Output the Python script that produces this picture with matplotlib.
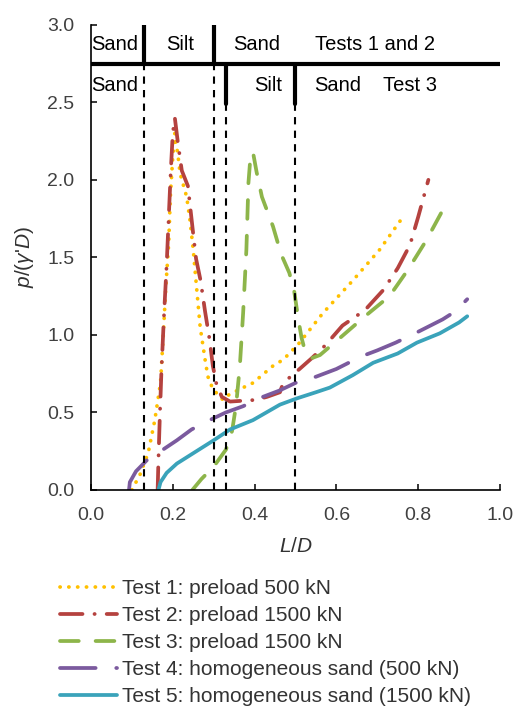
import matplotlib
matplotlib.use("Agg")
import matplotlib.pyplot as plt

# 폰트 설정
plt.rcParams["font.family"] = ["Liberation Sans", "DejaVu Sans"]
plt.rcParams["mathtext.fontset"] = "custom"
plt.rcParams["mathtext.rm"] = "Liberation Sans"
plt.rcParams["mathtext.it"] = "Liberation Sans:italic"

# Test 1: preload 500 kN
test1_x = [0.100, 0.120, 0.140, 0.156, 0.170, 0.177, 0.183, 0.190, 0.194, 0.200, 0.205,
           0.213, 0.218, 0.234, 0.242, 0.250, 0.258, 0.267, 0.279, 0.286, 0.298, 0.323,
           0.335, 0.364, 0.396, 0.445, 0.470, 0.507, 0.567, 0.640, 0.706, 0.760]
test1_y = [0.00, 0.10, 0.24, 0.45, 0.69, 1.01, 1.31, 1.59, 1.89, 2.15, 2.30,
           2.15, 2.04, 1.89, 1.74, 1.55, 1.31, 1.05, 0.84, 0.73, 0.65, 0.58,
           0.61, 0.65, 0.69, 0.80, 0.84, 0.94, 1.14, 1.35, 1.55, 1.75]

# Test 2: preload 1500 kN
test2_x = [0.163, 0.165, 0.168, 0.172, 0.178, 0.185, 0.190, 0.195, 0.200, 0.205,
           0.212, 0.222, 0.237, 0.242, 0.250, 0.257, 0.268, 0.279, 0.290, 0.298,
           0.307, 0.320, 0.340, 0.400, 0.430, 0.462, 0.470, 0.510, 0.540, 0.572,
           0.615, 0.670, 0.715, 0.750, 0.780, 0.800, 0.825]
test2_y = [0.00, 0.20, 0.45, 0.75, 1.10, 1.45, 1.75, 2.05, 2.30, 2.40,
           2.25, 2.06, 1.96, 1.84, 1.65, 1.49, 1.35, 1.15, 0.97, 0.80,
           0.68, 0.60, 0.57, 0.58, 0.60, 0.63, 0.69, 0.78, 0.85, 0.93,
           1.06, 1.16, 1.29, 1.43, 1.58, 1.76, 2.00]

# Test 3: preload 1500 kN
test3_x = [0.248, 0.270, 0.300, 0.330, 0.345, 0.355, 0.364, 0.372, 0.380, 0.385,
           0.390, 0.396, 0.405, 0.418, 0.445, 0.465, 0.485, 0.497, 0.507, 0.515,
           0.525, 0.540, 0.560, 0.600, 0.670, 0.730, 0.775, 0.820, 0.855, 0.870]
test3_y = [0.00, 0.07, 0.15, 0.26, 0.38, 0.55, 0.80, 1.14, 1.55, 1.98,
           2.15, 2.18, 2.05, 1.89, 1.70, 1.52, 1.40, 1.28, 1.10, 0.98,
           0.88, 0.85, 0.87, 0.96, 1.12, 1.25, 1.42, 1.61, 1.78, 1.86]

# Test 4: homogeneous sand (500 kN)
test4_x = [0.093, 0.095, 0.110, 0.136, 0.176, 0.210, 0.246, 0.290, 0.330, 0.372,
           0.420, 0.460, 0.500, 0.550, 0.600, 0.660, 0.700, 0.745, 0.800, 0.860,
           0.890, 0.920]
test4_y = [0.00, 0.05, 0.12, 0.19, 0.26, 0.32, 0.39, 0.45, 0.50, 0.54,
           0.60, 0.64, 0.69, 0.73, 0.78, 0.86, 0.90, 0.95, 1.02, 1.10,
           1.15, 1.23]

# Test 5: homogeneous sand (1500 kN)
test5_x = [0.165, 0.170, 0.185, 0.210, 0.234, 0.270, 0.300, 0.340, 0.396, 0.462,
           0.503, 0.550, 0.584, 0.640, 0.690, 0.750, 0.797, 0.853, 0.900, 0.920]
test5_y = [0.00, 0.05, 0.11, 0.17, 0.21, 0.27, 0.32, 0.39, 0.45, 0.55,
           0.59, 0.63, 0.66, 0.74, 0.82, 0.88, 0.95, 1.01, 1.08, 1.12]

labels = ["Test 1: preload 500 kN",
          "Test 2: preload 1500 kN",
          "Test 3: preload 1500 kN",
          "Test 4: homogeneous sand (500 kN)",
          "Test 5: homogeneous sand (1500 kN)"]

# 층 경계 (L/D)
bounds_12 = [0.13, 0.30]
bounds_3 = [0.33, 0.50]

# 층 라벨: (텍스트, x, y, 정렬)
layer_labels = [
    ("Sand", 0.0, 2.87, "left"),
    ("Silt", 0.218, 2.87, "center"),
    ("Sand", 0.404, 2.87, "center"),
    ("Tests 1 and 2", 0.694, 2.87, "center"),
    ("Sand", 0.0, 2.61, "left"),
    ("Silt", 0.433, 2.61, "center"),
    ("Sand", 0.603, 2.61, "center"),
    ("Test 3", 0.779, 2.61, "center"),
]

SERIES = [
    dict(x=test1_x, y=test1_y, color="#FFC000", dashes=(0.05, 2.3)),
    dict(x=test2_x, y=test2_y, color="#B5423F", dashes=(6.0, 3.2, 0.05, 3.2)),
    dict(x=test3_x, y=test3_y, color="#8DB54A", dashes=(5.0, 4.5)),
    dict(x=test4_x, y=test4_y, color="#7B5A9E", dashes=(9.5, 5.5)),
    dict(x=test5_x, y=test5_y, color="#3AA3BA", dashes=None),
]

fig = plt.figure(figsize=(5.17, 7.09), dpi=100)
ax = fig.add_axes([0.176, 0.309, 0.791, 0.656])

for s, lab in zip(SERIES, labels):
    line, = ax.plot(s["x"], s["y"], color=s["color"], lw=2.7, label=lab,
                    solid_capstyle="round", dash_capstyle="round")
    if s["dashes"] is not None:
        line.set_dashes(s["dashes"])

# 경계선
for b in bounds_12:
    ax.plot([b, b], [0, 2.75], color="black", lw=1.5, dashes=(3.5, 3))
    ax.plot([b, b], [2.75, 3.01], color="black", lw=3, solid_capstyle="butt")
for b in bounds_3:
    ax.plot([b, b], [0, 2.5], color="black", lw=1.5, dashes=(3.5, 3))
    ax.plot([b, b], [2.49, 2.75], color="black", lw=3, solid_capstyle="round")
ax.plot([0, 1.0], [2.75, 2.75], color="black", lw=3, solid_capstyle="butt")

for text, x, y, ha in layer_labels:
    ax.text(x, y, text, ha=ha, va="center", fontsize=14.5, color="black")

ax.set_xlim(0, 1.0)
ax.set_ylim(0, 3.0)
ax.set_xticks([0.0, 0.2, 0.4, 0.6, 0.8, 1.0])
ax.set_yticks([0.0, 0.5, 1.0, 1.5, 2.0, 2.5, 3.0])
ax.set_xticklabels(["0.0", "0.2", "0.4", "0.6", "0.8", "1.0"])
ax.set_yticklabels(["0.0", "0.5", "1.0", "1.5", "2.0", "2.5", "3.0"])
ax.tick_params(direction="in", length=4, width=1.1, labelsize=14, colors="black",
               labelcolor="#404040", pad=12)
for side in ["top", "right"]:
    ax.spines[side].set_visible(False)
for side in ["left", "bottom"]:
    ax.spines[side].set_linewidth(1.2)
ax.patch.set_alpha(0)

ax.set_xlabel("$L$/$D$", fontsize=15, color="#333333", labelpad=10)
ax.set_ylabel("$p$/($\\gamma$'$D$)", fontsize=15, color="#333333", labelpad=8)

fig.legend(loc="upper left", bbox_to_anchor=(0.116, 0.183), frameon=False,
           fontsize=15, handlelength=2.75, handletextpad=0.25, labelspacing=0.38,
           borderpad=0, borderaxespad=0, labelcolor="#333333")

fig.savefig("out.png", dpi=100)
